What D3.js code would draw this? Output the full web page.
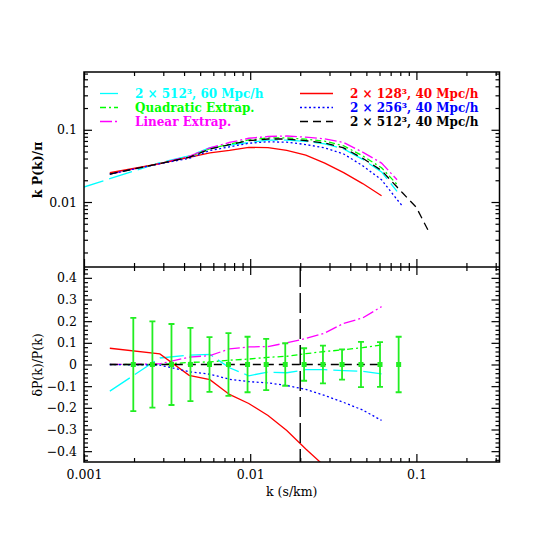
<!DOCTYPE html>
<html>
<head>
<meta charset="utf-8">
<script src="https://cdn.jsdelivr.net/npm/d3@7"></script>
<style>
    body { margin: 0; background: #fff; }
    text { font-family: "DejaVu Serif", serif; }
</style>
</head>
<body>
<div class="main"></div>
<script>
// simulation k bins (s/km)
const kSim = [0.00143, 0.00286, 0.00429, 0.00572, 0.0075, 0.0098, 0.0128, 0.0166,
    0.0216, 0.0281, 0.0365, 0.0475, 0.0617, 0.0765, 0.0827, 0.100, 0.120];

// top panel: k P(k) / pi
const pBlack   = [0.0244, 0.0340, 0.0416, 0.0540, 0.0622, 0.0706, 0.0745, 0.0745,
    0.0706, 0.0656, 0.0560, 0.0403, 0.0273, 0.0161, 0.0133, 0.0084, 0.0037];
const pRed     = [0.0254, 0.0340, 0.0414, 0.0480, 0.0520, 0.0571, 0.0565, 0.0520,
    0.0445, 0.0345, 0.0255, 0.0180, 0.0122];
const pBlue    = [0.0244, 0.0339, 0.0402, 0.0516, 0.0580, 0.0650, 0.0682, 0.0673,
    0.0625, 0.0562, 0.0462, 0.0318, 0.0203, 0.0108, 0.0087];
const pGreen   = [0.0244, 0.0340, 0.0420, 0.0546, 0.0634, 0.0724, 0.0770, 0.0773,
    0.0740, 0.0695, 0.0600, 0.0435, 0.0298, 0.0175];
const pMagenta = [0.0244, 0.0341, 0.0430, 0.0562, 0.0667, 0.0763, 0.0807, 0.0820,
    0.0790, 0.0750, 0.0666, 0.0490, 0.0346, 0.0203];
const kCyan    = [0.000953, 0.00143, 0.00286, 0.00429, 0.00572, 0.0075, 0.0098, 0.0128,
    0.0166, 0.0216, 0.0281, 0.0365, 0.0475, 0.0617, 0.0765];
const pCyan    = [0.0156, 0.0210, 0.0350, 0.0434, 0.0565, 0.0613, 0.0667, 0.0719,
    0.0717, 0.0689, 0.0640, 0.0544, 0.0390, 0.0261, 0.0140];

// bottom panel: dP/P relative to 2x512^3, 40 Mpc/h
const dBlack   = [0, 0, 0, 0, 0, 0, 0, 0, 0, 0, 0, 0, 0];
const dRed     = [0.075, 0.049, -0.050, -0.070, -0.138, -0.180, -0.235, -0.305, -0.390, -0.470, -0.560];
const dBlue    = [0, -0.003, -0.033, -0.045, -0.068, -0.079, -0.085, -0.097, -0.115, -0.143, -0.175, -0.210, -0.258];
const dGreen   = [0, 0, 0.010, 0.012, 0.020, 0.025, 0.033, 0.038, 0.050, 0.060, 0.068, 0.078, 0.090];
const dMagenta = [0, 0.003, 0.034, 0.041, 0.072, 0.081, 0.083, 0.100, 0.120, 0.145, 0.190, 0.215, 0.267];
const dCyan    = [-0.123, 0.030, 0.043, 0.047, -0.015, -0.052, -0.035, -0.038, -0.024, -0.024, -0.028, -0.031, -0.043];

// error bars
const kErr = [0.00198, 0.00258, 0.00336, 0.00437, 0.00569, 0.0074, 0.00964, 0.01248,
    0.01625, 0.0211, 0.0274, 0.0357, 0.0464, 0.0604, 0.0782];
const sErr = [0.215, 0.199, 0.187, 0.169, 0.126, 0.145, 0.128, 0.118,
    0.098, 0.075, 0.087, 0.070, 0.104, 0.103, 0.128];

const kCut = 0.02;

const width = 545, height = 545;
const xLeft = 84, xRight = 499.5, yTopEdge = 72, yMid = 267, yBottom = 462;

const svg = d3.select(".main").append("svg")
    .attr("width", width)
    .attr("height", height);

const x = d3.scaleLog().domain([0.001, Math.pow(10, -0.5)]).range([xLeft, xRight]);
const yTop = d3.scaleLog().domain([Math.pow(10, -2.9), Math.pow(10, -0.2)]).range([yMid, yTopEdge]);
const yBot = d3.scaleLinear().domain([-0.45, 0.45]).range([yBottom, yMid]);

const series = [
    { label: "2 × 512³, 60 Mpc/h", color: "#00ffff", dash: "24,6", k: kCyan, p: pCyan, d: dCyan },
    { label: "Quadratic Extrap.", color: "#00ff00", dash: "6,3,2,3", p: pGreen, d: dGreen },
    { label: "Linear Extrap.", color: "#ff00ff", dash: "12,3,2,3", p: pMagenta, d: dMagenta },
    { label: "2 × 128³, 40 Mpc/h", color: "#ff0000", dash: null, p: pRed, d: dRed },
    { label: "2 × 256³, 40 Mpc/h", color: "#0000ff", dash: "2,2.5", p: pBlue, d: dBlue },
    { label: "2 × 512³, 40 Mpc/h", color: "#000000", dash: "8,5", p: pBlack, d: dBlack }
];

// clip paths
const defs = svg.append("defs");
defs.append("clipPath").attr("id", "clipTop")
    .append("rect").attr("x", xLeft).attr("y", yTopEdge).attr("width", xRight - xLeft).attr("height", yMid - yTopEdge);
defs.append("clipPath").attr("id", "clipBot")
    .append("rect").attr("x", xLeft).attr("y", yMid).attr("width", xRight - xLeft).attr("height", yBottom - yMid);

// log tick values
const logTicks = (lo, hi) => {
    const major = [], minor = [];
    for (let e = -4; e <= 1; e++) {
        for (let m = 1; m < 10; m++) {
            const v = +(m * Math.pow(10, e)).toPrecision(3);
            if (v < lo * 0.999 || v > hi * 1.001) continue;
            (m === 1 ? major : minor).push(v);
        }
    }
    return { major, minor };
};

const xT = logTicks(0.001, Math.pow(10, -0.5));
const yT = logTicks(Math.pow(10, -2.9), Math.pow(10, -0.2));
const linMajor = d3.range(-4, 5).map(v => v / 10);
const linMinor = d3.range(-22, 23).filter(v => v % 5 !== 0).map(v => v / 50);

const addAxis = (axisFn, scale, tx, ty, values, size, fmt) => {
    const g = svg.append("g")
        .attr("transform", "translate(" + tx + "," + ty + ")")
        .call(axisFn(scale).tickValues(values).tickSize(size).tickPadding(6)
            .tickFormat(fmt || ""));
    g.select(".domain").remove();
    g.selectAll("line").attr("stroke", "#000").attr("stroke-width", 1.2);
    g.selectAll("text").attr("font-size", 12.5).attr("fill", "#000")
        .attr("font-family", "DejaVu Serif");
    return g;
};

// top panel ticks
addAxis(d3.axisTop, x, 0, yTopEdge, xT.major, -8);
addAxis(d3.axisTop, x, 0, yTopEdge, xT.minor, -4);
addAxis(d3.axisBottom, x, 0, yMid, xT.major, -8);
addAxis(d3.axisBottom, x, 0, yMid, xT.minor, -4);
addAxis(d3.axisLeft, yTop, xLeft, 0, yT.major, -8, d => String(d)).selectAll("text").attr("x", -7);
addAxis(d3.axisLeft, yTop, xLeft, 0, yT.minor, -4);
addAxis(d3.axisRight, yTop, xRight, 0, yT.major, -8);
addAxis(d3.axisRight, yTop, xRight, 0, yT.minor, -4);

// bottom panel ticks
addAxis(d3.axisTop, x, 0, yMid, xT.major, -8);
addAxis(d3.axisTop, x, 0, yMid, xT.minor, -4);
addAxis(d3.axisBottom, x, 0, yBottom, xT.major, -8, d => String(d)).selectAll("text").attr("y", 8);
addAxis(d3.axisBottom, x, 0, yBottom, xT.minor, -4);
addAxis(d3.axisLeft, yBot, xLeft, 0, linMajor, -8, d => d === 0 ? "0" : d3.format(".1f")(d)).selectAll("text").attr("x", -7);
addAxis(d3.axisLeft, yBot, xLeft, 0, linMinor, -4);
addAxis(d3.axisRight, yBot, xRight, 0, linMajor, -8);
addAxis(d3.axisRight, yBot, xRight, 0, linMinor, -4);

// curves
const lineTop = d3.line().x(d => x(d[0])).y(d => yTop(d[1]));
const lineBot = d3.line().x(d => x(d[0])).y(d => yBot(d[1]));

const gTop = svg.append("g").attr("clip-path", "url(#clipTop)");
const gBot = svg.append("g").attr("clip-path", "url(#clipBot)");

series.forEach(s => {
    const kk = s.k || kSim;
    gTop.append("path")
        .attr("d", lineTop(d3.zip(kk, s.p)))
        .attr("fill", "none")
        .attr("stroke", s.color)
        .attr("stroke-width", 1.3)
        .attr("stroke-dasharray", s.dash);
    gBot.append("path")
        .attr("d", lineBot(d3.zip(kSim, s.d)))
        .attr("fill", "none")
        .attr("stroke", s.color)
        .attr("stroke-width", 1.3)
        .attr("stroke-dasharray", s.dash);
});

// vertical cut line
gBot.append("line")
    .attr("x1", x(kCut)).attr("x2", x(kCut))
    .attr("y1", yMid).attr("y2", yBottom)
    .attr("stroke", "#000")
    .attr("stroke-width", 1.4)
    .attr("stroke-dasharray", "20,6");

// error bars
const eb = gBot.selectAll(".err")
    .data(d3.zip(kErr, sErr))
    .enter()
    .append("g")
    .attr("class", "err");

eb.append("line")
    .attr("x1", d => x(d[0])).attr("x2", d => x(d[0]))
    .attr("y1", d => yBot(-d[1])).attr("y2", d => yBot(d[1]));
eb.append("line")
    .attr("x1", d => x(d[0]) - 3).attr("x2", d => x(d[0]) + 3)
    .attr("y1", d => yBot(d[1])).attr("y2", d => yBot(d[1]));
eb.append("line")
    .attr("x1", d => x(d[0]) - 3).attr("x2", d => x(d[0]) + 3)
    .attr("y1", d => yBot(-d[1])).attr("y2", d => yBot(-d[1]));
eb.selectAll("line").attr("stroke", "#22ee22").attr("stroke-width", 1.8);
eb.append("rect")
    .attr("x", d => x(d[0]) - 2.5).attr("y", yBot(0) - 2.5)
    .attr("width", 5).attr("height", 5)
    .attr("fill", "#22ee22");

// frames
svg.append("rect")
    .attr("x", xLeft).attr("y", yTopEdge).attr("width", xRight - xLeft).attr("height", yBottom - yTopEdge)
    .attr("fill", "none").attr("stroke", "#000").attr("stroke-width", 1.5);
svg.append("line")
    .attr("x1", xLeft).attr("x2", xRight).attr("y1", yMid).attr("y2", yMid)
    .attr("stroke", "#000").attr("stroke-width", 1.5);

// legend
const legend = svg.append("g");
series.forEach((s, i) => {
    const col = i < 3 ? 0 : 1, row = i % 3;
    const x0 = col === 0 ? 100 : 300, x1 = col === 0 ? 118 : 333;
    const tx = col === 0 ? 135 : 350;
    const yy = 93.5 + row * 14;
    legend.append("line")
        .attr("x1", x0).attr("x2", x1).attr("y1", yy).attr("y2", yy)
        .attr("stroke", s.color).attr("stroke-width", 1.3)
        .attr("stroke-dasharray", s.dash);
    legend.append("text")
        .attr("x", tx).attr("y", yy + 4.5)
        .attr("font-size", 12).attr("font-weight", "bold")
        .attr("fill", s.color)
        .text(s.label);
});

// axis titles
svg.append("text")
    .attr("x", (xLeft + xRight) / 2).attr("y", 496)
    .attr("text-anchor", "middle").attr("font-size", 12.5)
    .text("k (s/km)");
svg.append("text")
    .attr("transform", "translate(42,170) rotate(-90)")
    .attr("text-anchor", "middle").attr("font-size", 12.5).attr("font-weight", "bold")
    .text("k P(k)/π");
svg.append("text")
    .attr("transform", "translate(42,365) rotate(-90)")
    .attr("text-anchor", "middle").attr("font-size", 12.5)
    .text("δP(k)/P(k)");
</script>
</body>
</html>
